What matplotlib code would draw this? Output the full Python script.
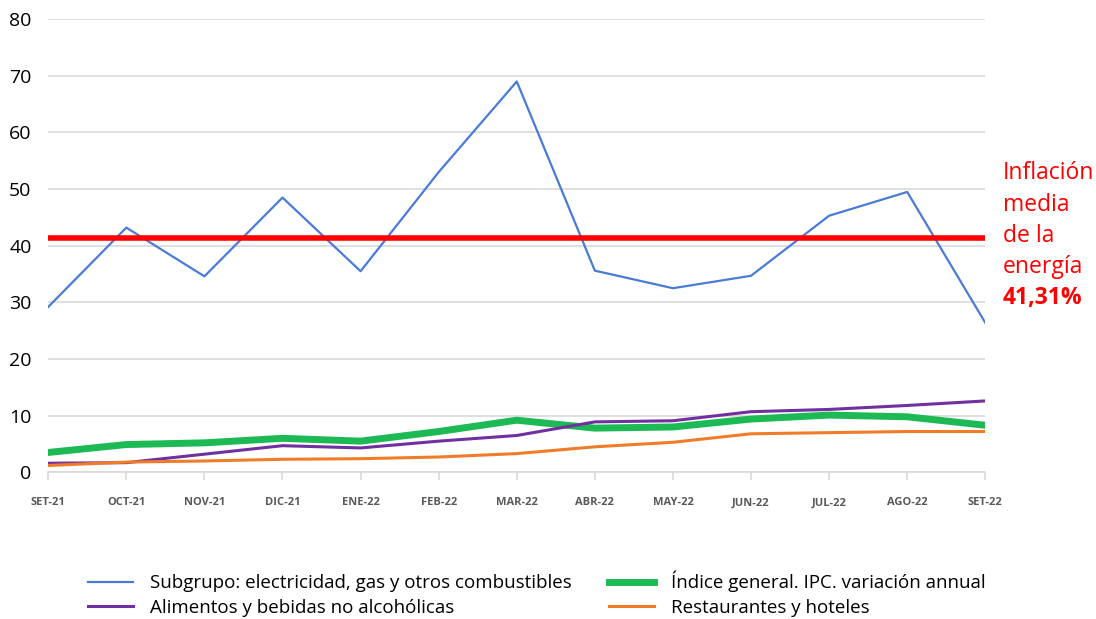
import matplotlib.pyplot as plt
import numpy as np

meses = ['SET-21', 'OCT-21', 'NOV-21', 'DIC-21', 'ENE-22', 'FEB-22', 'MAR-22',
         'ABR-22', 'MAY-22', 'JUN-22', 'JUL-22', 'AGO-22', 'SET-22']
energia = [29.2, 43.2, 34.6, 48.5, 35.5, 53.0, 69.0, 35.6, 32.5, 34.7, 45.3, 49.5, 26.4]
ipc = [3.5, 4.9, 5.2, 6.0, 5.5, 7.2, 9.2, 7.8, 8.0, 9.4, 10.1, 9.8, 8.3]
alimentos = [1.6, 1.7, 3.2, 4.7, 4.3, 5.5, 6.5, 8.9, 9.1, 10.7, 11.1, 11.8, 12.6]
restaurantes = [1.2, 1.8, 2.0, 2.3, 2.4, 2.7, 3.3, 4.5, 5.3, 6.8, 7.0, 7.2, 7.2]
media_energia = 41.31
nota = ['Inflación', 'media', 'de la', 'energía']

plt.rcParams['font.family'] = ['Open Sans', 'DejaVu Sans']

fig = plt.figure(figsize=(10.96, 6.19), dpi=100)
ax = fig.add_axes([0.044, 0.237, 0.855, 0.732])
x = np.arange(len(meses))

l1, = ax.plot(x, energia, color='#4a7bd6', lw=1.6, label='Subgrupo: electricidad, gas y otros combustibles')
l2, = ax.plot(x, ipc, color='#1db954', lw=5, label='Índice general. IPC. variación annual')
l3, = ax.plot(x, alimentos, color='#7030a0', lw=2.2, label='Alimentos y bebidas no alcohólicas')
l4, = ax.plot(x, restaurantes, color='#f07c2a', lw=2.2, label='Restaurantes y hoteles')
ax.axhline(media_energia, color='#ff0000', lw=4, zorder=5)

ax.set_xlim(0, len(meses) - 1)
ax.set_ylim(0, 80)
ax.set_yticks(range(0, 81, 10))
ax.grid(axis='y', color='#d9d9d9', lw=1.2)
ax.set_axisbelow(True)
for s in ['left', 'right', 'top']:
    ax.spines[s].set_visible(False)
ax.spines['bottom'].set_color('#d9d9d9')
ax.spines['bottom'].set_linewidth(1.2)
ax.set_xticks(x)
ax.set_xticklabels(meses, fontsize=8, fontweight='bold', color='#595959')
ax.tick_params(axis='x', length=6, color='#d9d9d9', width=1.2, pad=12)
ax.tick_params(axis='y', length=0, labelsize=14, pad=12)

# anotación a la derecha
for i, t in enumerate(nota):
    fig.text(0.915, 0.720 - i * 0.0505, t, color='#ff0000', fontsize=16.5,
             va='center', ha='left')
fig.text(0.915, 0.518, '41,31%', color='#ff0000', fontsize=16.5, fontweight='bold',
         va='center', ha='left')

fig.legend(handles=[l1, l3, l2, l4], loc='lower left', bbox_to_anchor=(0.065, -0.024),
           ncol=2, frameon=False, fontsize=13.5, handlelength=2.4, handletextpad=0.9,
           columnspacing=2.0, labelspacing=0.35)

fig.savefig('out.png', dpi=100)
